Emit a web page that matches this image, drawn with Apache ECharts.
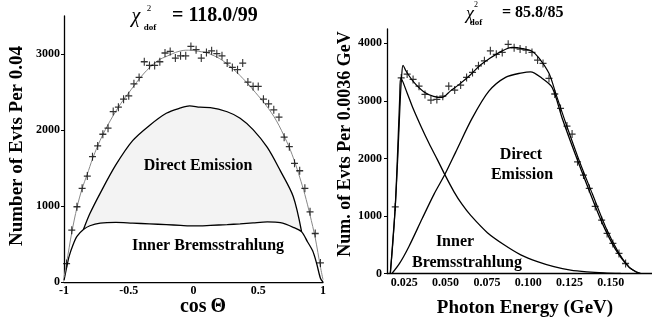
<!DOCTYPE html>
<html>
<head>
<meta charset="utf-8">
<script src="https://cdn.jsdelivr.net/npm/echarts@6/dist/echarts.min.js"></script>
<style>
html, body { margin: 0; padding: 0; background: #fff; }
#chart { width: 652px; height: 326px; }
</style>
</head>
<body>
<div id="chart"></div>
<script>
// ---- left panel : cos(theta) ----
var cosBins = [-0.98, -0.94, -0.90, -0.86, -0.82, -0.78, -0.74, -0.70, -0.66, -0.62,
    -0.58, -0.54, -0.50, -0.46, -0.42, -0.38, -0.34, -0.30, -0.26, -0.22,
    -0.18, -0.14, -0.10, -0.06, -0.02, 0.02, 0.06, 0.10, 0.14, 0.18,
    0.22, 0.26, 0.30, 0.34, 0.38, 0.42, 0.46, 0.50, 0.54, 0.58,
    0.62, 0.66, 0.70, 0.74, 0.78, 0.82, 0.86, 0.90, 0.94, 0.98];
var cosCounts = [243, 682, 990, 1232, 1394, 1649, 1790, 1944, 2024, 2243,
    2300, 2406, 2450, 2608, 2691, 2898, 2850, 2850, 2898, 3013,
    3034, 2947, 2976, 2976, 3100, 3057, 2947, 3021, 3042, 3004,
    2976, 2881, 2823, 2793, 2881, 2630, 2573, 2573, 2406, 2344,
    2265, 2169, 1905, 1781, 1562, 1464, 1232, 923, 638, 251];
var cosFitX = [-1.0, -0.98, -0.94, -0.90, -0.86, -0.82, -0.78, -0.74, -0.70, -0.66, -0.62,
    -0.58, -0.54, -0.50, -0.46, -0.42, -0.38, -0.34, -0.30, -0.26, -0.22,
    -0.18, -0.14, -0.10, -0.06, -0.02, 0.02, 0.06, 0.10, 0.14, 0.18,
    0.22, 0.26, 0.30, 0.34, 0.38, 0.42, 0.46, 0.50, 0.54, 0.58,
    0.62, 0.66, 0.70, 0.74, 0.78, 0.82, 0.86, 0.90, 0.94, 0.98, 1.0];
var cosFitY = [60, 250, 650, 980, 1230, 1420, 1620, 1790, 1940, 2070, 2190,
    2300, 2400, 2490, 2580, 2670, 2750, 2820, 2880, 2930, 2960,
    2990, 3020, 3040, 3050, 3050, 3040, 3030, 3020, 2990, 2960,
    2920, 2870, 2810, 2750, 2680, 2610, 2530, 2450, 2370, 2280,
    2180, 2060, 1920, 1770, 1590, 1380, 1150, 880, 580, 200, 30];
// inner bremsstrahlung curve
var cosIBX = [-1.0, -0.98, -0.96, -0.93, -0.90, -0.85, -0.80, -0.72, -0.60, -0.47, -0.34,
    -0.21, -0.10, -0.03, 0.05, 0.13, 0.26, 0.36, 0.46, 0.57, 0.67,
    0.77, 0.835, 0.88, 0.92, 0.95, 0.98, 1.0];
var cosIBY = [20, 190, 340, 490, 600, 690, 740, 775, 785, 775, 765,
    755, 745, 738, 738, 745, 755, 765, 778, 790, 780,
    720, 660, 530, 410, 250, 50, 0];
// upper edge of the direct emission band
var cosDEX = [-0.85, -0.80, -0.72, -0.60, -0.47, -0.34, -0.21, -0.10, -0.03, 0.05,
    0.13, 0.26, 0.36, 0.46, 0.57, 0.67, 0.77, 0.835];
var cosDEY = [690, 900, 1170, 1540, 1860, 2060, 2220, 2290, 2318, 2300,
    2295, 2240, 2155, 2005, 1770, 1465, 1125, 660];

// ---- right panel : photon energy ----
var eBins = [0.0195, 0.0231, 0.0267, 0.0303, 0.0339, 0.0375, 0.0411, 0.0447, 0.0483, 0.0519,
    0.0555, 0.0591, 0.0627, 0.0663, 0.0699, 0.0735, 0.0771, 0.0807, 0.0843, 0.0879,
    0.0915, 0.0951, 0.0987, 0.1023, 0.1057, 0.1090, 0.1126, 0.1161, 0.1196, 0.1235,
    0.1266, 0.1299, 0.1335, 0.1370, 0.1406, 0.1445, 0.1478, 0.1513, 0.1550, 0.1590];
var eCounts = [1158, 3400, 3466, 3374, 3257, 3113, 3014, 3026, 3083, 3257,
    3188, 3275, 3409, 3496, 3610, 3697, 3871, 3809, 3843, 3983,
    3923, 3901, 3883, 3843, 3710, 3652, 3391, 3120, 2870, 2562,
    2423, 1941, 1710, 1478, 1165, 927, 696, 522, 348, 174];
var eFitX = [0.0165, 0.018, 0.0195, 0.021, 0.0225, 0.0235, 0.0242, 0.026, 0.0306, 0.0367,
    0.0427, 0.0478, 0.0528, 0.0588, 0.0649, 0.0709, 0.0762, 0.0843, 0.0903, 0.0964,
    0.1025, 0.1065, 0.1126, 0.1166, 0.1227, 0.1308, 0.1388, 0.1469, 0.155, 0.161, 0.166, 0.168];
var eFitY = [0, 520, 1160, 2000, 3000, 3480, 3620, 3520, 3330, 3160,
    3080, 3060, 3170, 3300, 3450, 3620, 3730, 3870, 3930, 3910,
    3860, 3750, 3480, 3140, 2620, 1970, 1390, 810, 350, 115, 20, 0];
var eIBX = [0.0165, 0.018, 0.0195, 0.021, 0.0222, 0.0229, 0.0268, 0.030, 0.0349, 0.040,
    0.045, 0.0495, 0.0551, 0.060, 0.0652, 0.0753, 0.0854, 0.0955, 0.1056, 0.1156,
    0.1257, 0.1358, 0.146, 0.156];
var eIBY = [0, 560, 1160, 2150, 3050, 3400, 3130, 2890, 2570, 2260,
    1980, 1720, 1420, 1200, 1010, 710, 500, 325, 205, 118,
    58, 28, 10, 0];
var eDEX = [0.0175, 0.022, 0.0278, 0.0359, 0.043, 0.0495, 0.0561, 0.0661, 0.0762, 0.0863,
    0.0964, 0.1014, 0.1085, 0.1146, 0.1206, 0.1287, 0.1368, 0.1448, 0.1529, 0.161, 0.166, 0.168];
var eDEY = [0, 170, 470, 960, 1380, 1720, 2110, 2700, 3170, 3410,
    3489, 3506, 3391, 3230, 2700, 2060, 1450, 880, 420, 110, 20, 0];
var eTicks = [0.025, 0.050, 0.075, 0.100, 0.125, 0.150];

var FONT = '"Liberation Serif", "DejaVu Serif", serif';
var PLUS = 'path://M4.2,0H5.8V10H4.2ZM0,4.2H10V5.8H0Z';

function pairs(xs, ys) {
    var out = [];
    for (var i = 0; i < xs.length; i++) {
        out.push([xs[i], ys[i]]);
    }
    return out;
}

function thousands(v) {
    return v % 1000 === 0 ? String(v) : '';
}

var tickLabel = { color: '#000', fontFamily: FONT, fontWeight: 'bold', fontSize: 12 };

function label(txt, x, y, size, extra) {
    var o = {
        type: 'text', x: x, y: y, z: 100,
        style: { text: txt, font: 'bold ' + size + 'px ' + FONT, fill: '#000', align: 'center', verticalAlign: 'middle' }
    };
    if (extra) {
        for (var k in extra) o[k] = extra[k];
    }
    return o;
}

var option = {
    animation: false,
    backgroundColor: '#fff',
    grid: [
        { left: 64, top: 16, width: 259, height: 266 },
        { left: 387, top: 29, width: 265, height: 244.5 }
    ],
    xAxis: [
        {
            gridIndex: 0, type: 'value', min: -1, max: 1, interval: 0.5,
            axisLine: { onZero: false, lineStyle: { color: '#000', width: 1.3 } },
            axisTick: { show: false },
            splitLine: { show: false },
            axisLabel: Object.assign({ margin: 3 }, tickLabel)
        },
        {
            gridIndex: 1, type: 'value', min: 0.0145, max: 0.175,
            axisLine: { onZero: false, lineStyle: { color: '#000', width: 1.3 } },
            axisTick: { show: false },
            splitLine: { show: false },
            axisLabel: Object.assign({
                margin: 3,
                customValues: eTicks,
                formatter: function (v) { return v.toFixed(3); }
            }, tickLabel)
        }
    ],
    yAxis: [
        {
            gridIndex: 0, type: 'value', min: 0, max: 3500, interval: 1000,
            axisLine: { show: true, onZero: false, lineStyle: { color: '#000', width: 1.3 } },
            axisTick: { show: true, length: 3, lineStyle: { color: '#000' } },
            splitLine: { show: false },
            axisLabel: Object.assign({ margin: 4, showMaxLabel: false, formatter: thousands }, tickLabel)
        },
        {
            gridIndex: 1, type: 'value', min: 0, max: 4250, interval: 1000,
            axisLine: { show: true, onZero: false, lineStyle: { color: '#000', width: 1.3 } },
            axisTick: { show: true, length: 3, lineStyle: { color: '#000' } },
            splitLine: { show: false },
            axisLabel: Object.assign({ margin: 5, showMaxLabel: false, formatter: thousands }, tickLabel)
        }
    ],
    series: [
        {
            // light band of direct emission, lower part hidden by the IB area
            name: 'DE', type: 'line', xAxisIndex: 0, yAxisIndex: 0,
            data: pairs(cosDEX, cosDEY), showSymbol: false, smooth: 0.3,
            lineStyle: { color: '#000', width: 1.3 },
            areaStyle: { color: '#f3f3f3', opacity: 1 }, z: 1
        },
        {
            name: 'IB', type: 'line', xAxisIndex: 0, yAxisIndex: 0,
            data: pairs(cosIBX, cosIBY), showSymbol: false, smooth: 0.3,
            lineStyle: { color: '#000', width: 1.3 },
            areaStyle: { color: '#fff', opacity: 1 }, z: 2
        },
        {
            name: 'fit', type: 'line', xAxisIndex: 0, yAxisIndex: 0,
            data: pairs(cosFitX, cosFitY), showSymbol: false, smooth: 0.3,
            lineStyle: { color: '#888', width: 1 }, z: 4
        },
        {
            name: 'data', type: 'scatter', xAxisIndex: 0, yAxisIndex: 0,
            data: pairs(cosBins, cosCounts), symbol: PLUS, symbolSize: [7, 8],
            itemStyle: { color: '#000' }, z: 5
        },
        {
            name: 'IB2', type: 'line', xAxisIndex: 1, yAxisIndex: 1,
            data: pairs(eIBX, eIBY), showSymbol: false, smooth: 0.3,
            lineStyle: { color: '#000', width: 1.3 }, z: 3
        },
        {
            name: 'DE2', type: 'line', xAxisIndex: 1, yAxisIndex: 1,
            data: pairs(eDEX, eDEY), showSymbol: false, smooth: 0.3,
            lineStyle: { color: '#000', width: 1.3 }, z: 3
        },
        {
            name: 'fit2', type: 'line', xAxisIndex: 1, yAxisIndex: 1,
            data: pairs(eFitX, eFitY), showSymbol: false, smooth: 0.3,
            lineStyle: { color: '#000', width: 1.2 }, z: 4
        },
        {
            name: 'data2', type: 'scatter', xAxisIndex: 1, yAxisIndex: 1,
            data: pairs(eBins, eCounts), symbol: PLUS, symbolSize: [7, 8],
            itemStyle: { color: '#000' }, z: 5
        }
    ],
    graphic: [
        // axis titles
        label('Number of Evts Per 0.04', 17, 146, 19, { rotation: Math.PI / 2 }),
        label('Num. of Evts Per 0.0036 GeV', 345, 144, 18, { rotation: Math.PI / 2 }),
        label('cos\u2009\u0398', 203, 307, 20),
        label('Photon Energy (GeV)', 525, 308, 19),
        // region labels
        label('Direct Emission', 198, 166, 16),
        label('Inner Bremsstrahlung', 208, 246, 16),
        label('Direct', 521, 155, 16),
        label('Emission', 522, 175, 16),
        label('Inner', 455, 242, 16),
        label('Bremsstrahlung', 467, 263, 16),
        // chi2 / dof, left
        { type: 'text', x: 136, y: 17,
          style: { text: '\u03c7', font: 'italic 20px ' + FONT, fill: '#000', align: 'center', verticalAlign: 'middle' } },
        { type: 'text', x: 149, y: 9,
          style: { text: '2', font: '9px ' + FONT, fill: '#000', align: 'center', verticalAlign: 'middle' } },
        { type: 'text', x: 150, y: 28,
          style: { text: 'dof', font: 'bold 9px ' + FONT, fill: '#000', align: 'center', verticalAlign: 'middle' } },
        { type: 'text', x: 172, y: 16,
          style: { text: '= 118.0/99', font: 'bold 20px ' + FONT, fill: '#000', align: 'left', verticalAlign: 'middle' } },
        // chi2 / dof, right
        { type: 'text', x: 470, y: 14,
          style: { text: '\u03c7', font: 'italic 18px ' + FONT, fill: '#000', align: 'center', verticalAlign: 'middle' } },
        { type: 'text', x: 476, y: 5,
          style: { text: '2', font: '8px ' + FONT, fill: '#000', align: 'center', verticalAlign: 'middle' } },
        { type: 'text', x: 476, y: 23,
          style: { text: 'dof', font: 'bold 9px ' + FONT, fill: '#000', align: 'center', verticalAlign: 'middle' } },
        { type: 'text', x: 502, y: 13,
          style: { text: '= 85.8/85', font: 'bold 16px ' + FONT, fill: '#000', align: 'left', verticalAlign: 'middle' } }
    ]
};

var myChart = echarts.init(document.getElementById('chart'));
myChart.setOption(option);
</script>
</body>
</html>
